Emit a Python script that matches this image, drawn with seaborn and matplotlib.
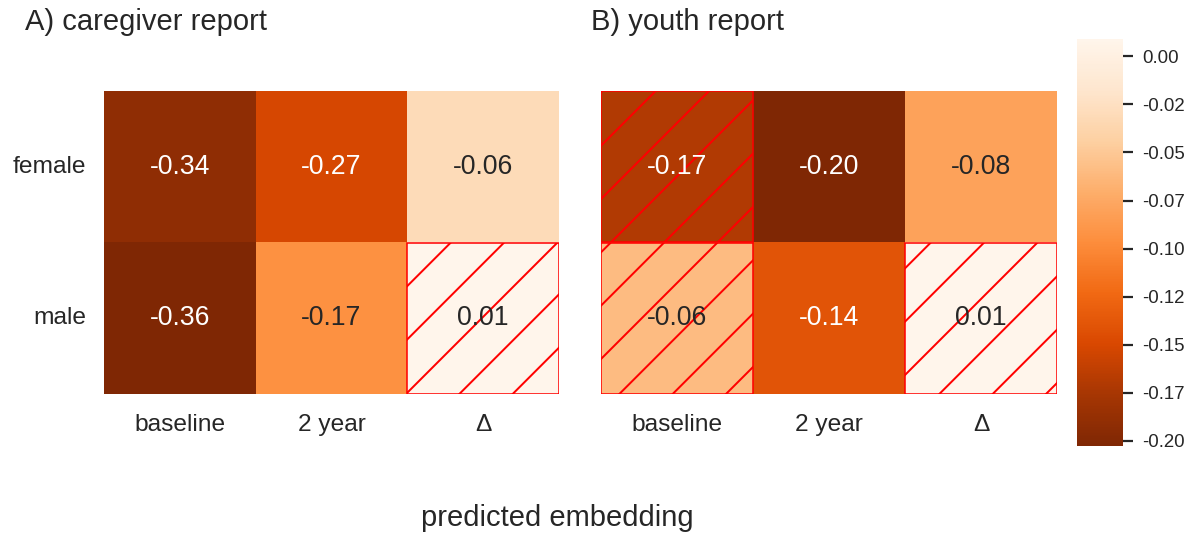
import numpy as np
import pandas as pd
import seaborn as sns
import matplotlib.pyplot as plt
from matplotlib.patches import Rectangle

# values
rows = ["female", "male"]
cols = ["baseline", "2 year", "Δ"]
caregiver_vals = [[-0.34, -0.27, -0.06],
                  [-0.36, -0.17, 0.01]]
youth_vals = [[-0.17, -0.2026, -0.08],
              [-0.06, -0.14, 0.009]]
# 1 = hatched (not significant)
caregiver_ns = [[0, 0, 0],
                [0, 0, 1]]
youth_ns = [[1, 0, 0],
            [1, 0, 1]]
cbar_ticks = [0.0, -0.025, -0.05, -0.075, -0.10, -0.125, -0.15, -0.175, -0.20]
cbar_labels = ["0.00", "-0.02", "-0.05", "-0.07", "-0.10", "-0.12", "-0.15", "-0.17", "-0.20"]

sns.set_theme(style="ticks")
plt.rcParams['font.family'] = ['Liberation Sans', 'DejaVu Sans']
plt.rcParams['hatch.linewidth'] = 0.45

DPI = 320
W, H = 1196, 533
fig = plt.figure(figsize=(W / DPI, H / DPI), dpi=DPI)

def px_axes(x0, y0, x1, y1):
    return fig.add_axes([x0 / W, 1 - y1 / H, (x1 - x0) / W, (y1 - y0) / H])

ax_a = px_axes(104, 91, 559, 394)
ax_b = px_axes(601, 91, 1057, 394)
cax = px_axes(1077, 39, 1123, 446)

df_a = pd.DataFrame(caregiver_vals, index=rows, columns=cols)
df_b = pd.DataFrame(youth_vals, index=rows, columns=cols)

annot_kws = {"size": 6.0}
sns.heatmap(df_a, ax=ax_a, cmap="Oranges_r", annot=True, fmt=".2f",
            annot_kws=annot_kws, cbar=False)
sns.heatmap(df_b, ax=ax_b, cmap="Oranges_r", annot=True, fmt=".2f",
            annot_kws=annot_kws, cbar_ax=cax)

for ax, ns in [(ax_a, caregiver_ns), (ax_b, youth_ns)]:
    ns = np.array(ns)
    for i in range(ns.shape[0]):
        for j in range(ns.shape[1]):
            if ns[i, j]:
                ax.add_patch(Rectangle((j, i), 1, 1, fill=False, hatch='//',
                                       edgecolor='red', lw=0.35))
    ax.tick_params(length=0, labelsize=5.5, colors='#262626')
    ax.tick_params(axis='y', pad=4)
    ax.tick_params(axis='x', pad=4.6)
    ax.set_xticklabels(cols, rotation=0)
    ax.set_xlabel("")
    ax.set_ylabel("")

ax_a.set_yticklabels(rows, rotation=0)
ax_b.set_yticklabels([])

cax.set_yticks(cbar_ticks)
cax.set_yticklabels(cbar_labels)
cax.tick_params(length=2.25, width=0.5, labelsize=4.2, pad=2, colors='#262626')

fig.text(25 / W, 1 - 22 / H, "A) caregiver report", fontsize=6.55,
         ha='left', va='center', color='#262626')
fig.text(591 / W, 1 - 22 / H, "B) youth report", fontsize=6.55,
         ha='left', va='center', color='#262626')
fig.text(557 / W, 1 - 518 / H, "predicted embedding", fontsize=6.55,
         ha='center', va='center', color='#262626')

fig.savefig("out.png", dpi=DPI)
